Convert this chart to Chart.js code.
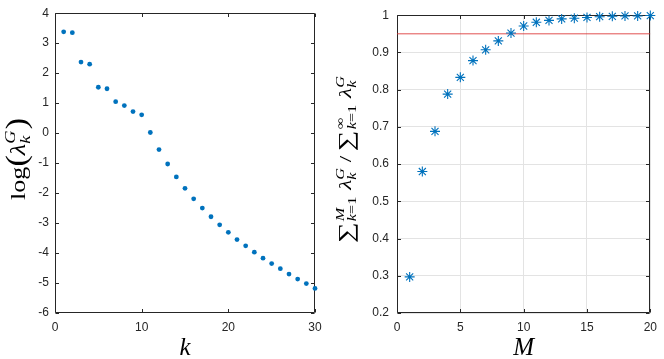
<!DOCTYPE html>
<html><head><meta charset="utf-8">
<script src="https://cdn.jsdelivr.net/npm/chart.js@4"></script>
<style>body{margin:0;background:#fff;overflow:hidden}canvas{position:absolute;top:0}</style>
</head><body>
<canvas id="c1" width="332" height="359" style="left:0"></canvas>
<canvas id="c2" width="332" height="359" style="left:332px"></canvas>
<script>
// ---- data ----
const kValues = [1,2,3,4,5,6,7,8,9,10,11,12,13,14,15,16,17,18,19,20,21,22,23,24,25,26,27,28,29,30];
const logLambda = [3.38,3.35,2.37,2.30,1.53,1.48,1.05,0.92,0.72,0.61,0.02,-0.55,-1.03,-1.46,-1.84,-2.19,-2.50,-2.79,-3.06,-3.31,-3.55,-3.76,-3.97,-4.17,-4.35,-4.52,-4.70,-4.87,-5.02,-5.18];
const mValues = [1,2,3,4,5,6,7,8,9,10,11,12,13,14,15,16,17,18,19,20];
const cumRatio = [0.297,0.580,0.688,0.788,0.833,0.878,0.907,0.931,0.952,0.971,0.981,0.986,0.990,0.992,0.994,0.996,0.997,0.998,0.998,0.999];
const threshold = 0.95;
const leftXTicks = [0,10,20,30];
const leftYTicks = [-6,-5,-4,-3,-2,-1,0,1,2,3,4];
const rightXTicks = [0,5,10,15,20];
const rightYTicks = [0.2,0.3,0.4,0.5,0.6,0.7,0.8,0.9,1];

const BLUE = '#0072BD';
const AX = '#262626';
const TICKFONT = {family:'"Liberation Sans", Arial, sans-serif', size:12};
const SERIF = '"Liberation Serif","DejaVu Serif",serif';

// ---- math text drawing ----
function fontStr(size, it){ return (it?'italic ':'') + size + 'px ' + SERIF; }
function segWidth(ctx, segs, size){
  let w=0; for(const [t,it] of segs){ ctx.font=fontStr(size,it); w+=ctx.measureText(t).width; } return w;
}
function drawSegs(ctx, segs, size, x, y){
  for(const [t,it] of segs){ ctx.font=fontStr(size,it); ctx.fillText(t,x,y); x+=ctx.measureText(t).width; }
}
function layoutMath(ctx, items, size){
  let w=0;
  for(const it of items){
    if(it.gap!==undefined){ it.w=it.gap*size; }
    else if(it.stack){ const s=size*0.7; it.w=Math.max(segWidth(ctx,it.sub,s),segWidth(ctx,it.sup,s))+size*0.05; }
    else { ctx.font=fontStr(size*(it.sc||1), it.it); it.w=ctx.measureText(it.s).width; }
    w+=it.w;
  }
  return w;
}
function drawMath(ctx, items, size, cx, cy, targetLen){
  const total = layoutMath(ctx, items, size);
  ctx.save();
  ctx.translate(cx, cy);
  ctx.rotate(-Math.PI/2);
  ctx.scale(targetLen/total, 1);
  ctx.fillStyle = '#000';
  ctx.textBaseline = 'alphabetic';
  ctx.textAlign = 'left';
  let x = -total/2; const base = size*0.3;
  for(const it of items){
    if(it.gap!==undefined){}
    else if(it.stack){
      const s=size*0.7;
      drawSegs(ctx,it.sup,s,x,base-size*0.42);
      drawSegs(ctx,it.sub,s,x,base+size*0.26);
    } else {
      ctx.font=fontStr(size*(it.sc||1), it.it);
      ctx.fillText(it.s, x, base+(it.dy||0)*size);
    }
    x+=it.w;
  }
  ctx.restore();
}

const leftLabel = [
  {s:'log'},{s:'(',sc:1.3,dy:0.08},{s:'λ',it:true},{stack:true,sub:[['k',true]],sup:[['G',true]]},{s:')',sc:1.3,dy:0.08}
];
const rightLabel = [
  {s:'∑',sc:1.25,dy:0.1},{gap:0.05},{stack:true,sub:[['k',true],['=1',false]],sup:[['M',true]]},{gap:0.25},
  {s:'λ',it:true},{stack:true,sub:[['k',true]],sup:[['G',true]]},{gap:0.2},{s:'/'},{gap:0.2},
  {s:'∑',sc:1.25,dy:0.1},{gap:0.05},{stack:true,sub:[['k',true],['=1',false]],sup:[['∞',false]]},{gap:0.25},
  {s:'λ',it:true},{stack:true,sub:[['k',true]],sup:[['G',true]]}
];

function framePlugin(opts){
  return {
    id:'frame',
    beforeDatasetsDraw(chart){
      const {ctx, chartArea:a, scales} = chart;
      ctx.save();
      ctx.strokeStyle = AX; ctx.lineWidth = 1;
      const L=Math.round(a.left)+0.5, R=Math.round(a.right)-0.5, T=Math.round(a.top)+0.5, B=Math.round(a.bottom)-0.5;
      ctx.beginPath();
      ctx.rect(L,T,R-L,B-T);
      const tl=3.5;
      for(const v of opts.xt){ const px=Math.round(scales.x.getPixelForValue(v))+0.5;
        ctx.moveTo(px,B); ctx.lineTo(px,B-tl); ctx.moveTo(px,T); ctx.lineTo(px,T+tl); }
      for(const v of opts.yt){ const py=Math.round(scales.y.getPixelForValue(v))+0.5;
        ctx.moveTo(L,py); ctx.lineTo(L+tl,py); ctx.moveTo(R,py); ctx.lineTo(R-tl,py); }
      ctx.stroke();
      ctx.restore();
    },
    afterDraw(chart){
      const {ctx, chartArea:a} = chart;
      ctx.save();
      ctx.fillStyle='#000';
      ctx.font = 'italic ' + opts.xSize + 'px ' + SERIF;
      ctx.textAlign='center'; ctx.textBaseline='alphabetic';
      ctx.fillText(opts.xTitle, (a.left+a.right)/2, opts.xTitleY);
      ctx.restore();
      drawMath(ctx, opts.yLabel, opts.ySize, opts.yX, opts.yY, opts.yLen);
    }
  };
}

function setTicks(arr){ return function(scale){ scale.ticks = arr.map(v=>({value:v})); }; }

// ---- left chart ----
new Chart(document.getElementById('c1'), {
  type:'scatter',
  data:{datasets:[{data:kValues.map((k,i)=>({x:k,y:logLambda[i]})), pointRadius:2.4, pointBackgroundColor:BLUE, pointBorderWidth:0, clip:false}]},
  options:{
    responsive:false, animation:false, devicePixelRatio:1,
    layout:{padding:{left:0,right:17,top:6,bottom:0}},
    plugins:{legend:{display:false},tooltip:{enabled:false}},
    scales:{
      x:{type:'linear',min:0,max:30,afterBuildTicks:setTicks(leftXTicks),afterFit(s){s.height=46;},
         grid:{display:false,drawTicks:false},border:{display:false},
         ticks:{font:TICKFONT,color:AX,padding:7,maxRotation:0}},
      y:{type:'linear',min:-6,max:4,afterBuildTicks:setTicks(leftYTicks),afterFit(s){s.width=55;},
         grid:{display:false,drawTicks:false},border:{display:false},
         ticks:{font:TICKFONT,color:AX,padding:6}}
    }
  },
  plugins:[framePlugin({xt:leftXTicks,yt:leftYTicks,xTitle:'k',xSize:25,xTitleY:355,yLabel:leftLabel,ySize:22,yX:18,yY:159,yLen:82})]
});

// ---- right chart ----
new Chart(document.getElementById('c2'), {
  type:'scatter',
  data:{datasets:[
    {data:mValues.map((m,i)=>({x:m,y:cumRatio[i]})), pointStyle:'star', pointRadius:5, pointBorderColor:BLUE, pointBackgroundColor:BLUE, pointBorderWidth:1.1, clip:false},
    {data:[{x:0,y:threshold},{x:20,y:threshold}], showLine:true, pointRadius:0, borderColor:'rgba(220,50,50,0.85)', borderWidth:1}
  ]},
  options:{
    responsive:false, animation:false, devicePixelRatio:1,
    layout:{padding:{left:0,right:8,top:6,bottom:0}},
    plugins:{legend:{display:false},tooltip:{enabled:false}},
    scales:{
      x:{type:'linear',min:0,max:20,afterBuildTicks:setTicks(rightXTicks),afterFit(s){s.height=46;},
         grid:{display:true,drawTicks:false,color:'#e3e3e3',lineWidth:1},border:{display:false},
         ticks:{font:TICKFONT,color:AX,padding:7,maxRotation:0}},
      y:{type:'linear',min:0.2,max:1,afterBuildTicks:setTicks(rightYTicks),afterFit(s){s.width=65;},
         grid:{display:true,drawTicks:false,color:'#e3e3e3',lineWidth:1},border:{display:false},
         ticks:{font:TICKFONT,color:AX,padding:8,callback:(v)=>String(Math.round(v*10)/10)}}
    }
  },
  plugins:[framePlugin({xt:rightXTicks,yt:rightYTicks,xTitle:'M',xSize:25,xTitleY:355,yLabel:rightLabel,ySize:17,yX:14,yY:159,yLen:168})]
});
</script>
</body></html>
